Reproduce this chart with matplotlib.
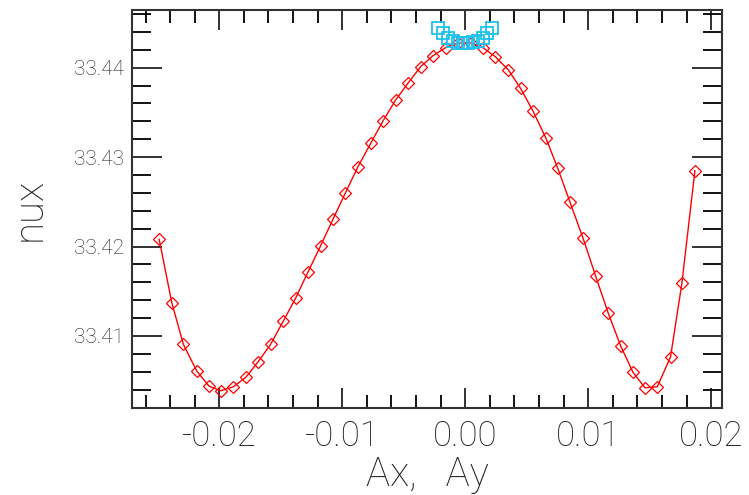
import numpy as np
import matplotlib
matplotlib.use("Agg")
import matplotlib.pyplot as plt
from matplotlib.ticker import MultipleLocator, FormatStrFormatter

# red scan: nux vs Ax
ax_amp = [-0.02489, -0.02386, -0.02292, -0.02183, -0.02084, -0.01989, -0.01886,
          -0.01783, -0.01686, -0.01583, -0.01481, -0.01378, -0.01278, -0.01177,
          -0.01075, -0.00974, -0.00874, -0.00769, -0.00669, -0.00566, -0.00463,
          -0.00363, -0.00263, -0.00160, -0.00058, 0.00043, 0.00143, 0.00244,
          0.00351, 0.00449, 0.00549, 0.00654, 0.00752, 0.00852, 0.00958,
          0.01060, 0.01161, 0.01263, 0.01364, 0.01461, 0.01561, 0.01669,
          0.01761, 0.01867]
nux_ax = [33.42081, 33.41371, 33.40906, 33.40607, 33.40440, 33.40387, 33.40432,
          33.40540, 33.40708, 33.40906, 33.41163, 33.41427, 33.41718, 33.42006,
          33.42308, 33.42602, 33.42889, 33.43154, 33.43404, 33.43639, 33.43832,
          33.44011, 33.44134, 33.44224, 33.44276, 33.44276, 33.44224, 33.44123,
          33.43974, 33.43770, 33.43519, 33.43217, 33.42875, 33.42494, 33.42092,
          33.41670, 33.41260, 33.40890, 33.40593, 33.40421, 33.40432, 33.40767,
          33.41588, 33.42848]

# blue scan: nux vs Ay
ay_amp = [-0.0022, -0.0018, -0.0014, -0.0010, -0.0006, -0.0002,
          0.0002, 0.0006, 0.0010, 0.0014, 0.0018, 0.0022]
nux_ay = [33.4444, 33.4439, 33.4433, 33.4430, 33.4428, 33.4428,
          33.4428, 33.4429, 33.4430, 33.4433, 33.4439, 33.4444]

plt.rcParams['font.family'] = ['Roboto', 'DejaVu Sans']
plt.rcParams['font.weight'] = 'light'

fig = plt.figure(figsize=(7.49, 4.95), dpi=100)
axis = fig.add_axes([0.1762, 0.1758, 0.7882, 0.804])

axis.plot(ax_amp, nux_ax, color='red', lw=1.0, marker='D', markersize=6,
          markerfacecolor='none', markeredgecolor='red', markeredgewidth=0.9)
axis.plot(ay_amp, nux_ay, linestyle='none', marker='s', markersize=8.5,
          markerfacecolor='none', markeredgecolor='#1ec0f0', markeredgewidth=1.3)

axis.set_xlim(-0.0271, 0.0209)
axis.set_ylim(33.40195, 33.44645)

axis.xaxis.set_major_locator(MultipleLocator(0.01))
axis.xaxis.set_minor_locator(MultipleLocator(0.002))
axis.yaxis.set_major_locator(MultipleLocator(0.01))
axis.yaxis.set_minor_locator(MultipleLocator(0.002))
axis.xaxis.set_major_formatter(FormatStrFormatter('%.2f'))
axis.yaxis.set_major_formatter(FormatStrFormatter('%.2f'))

axis.tick_params(axis='x', which='major', direction='in', length=14.5, width=1.3,
                 top=True, bottom=True, labelsize=25, pad=8, colors='#222222')
axis.tick_params(axis='x', which='minor', direction='in', length=9.5, width=1.3,
                 top=True, bottom=True)
axis.tick_params(axis='y', which='major', direction='in', length=21.5, width=1.3,
                 left=True, right=True, labelsize=15, pad=6, colors='#222222')
axis.tick_params(axis='y', which='minor', direction='in', length=13.5, width=1.3,
                 left=True, right=True)
for sp in axis.spines.values():
    sp.set_linewidth(1.5)
    sp.set_color('#333333')

axis.set_xlabel('Ax,   Ay', fontsize=29, fontweight='light', color='#222222',
                labelpad=2)
axis.set_ylabel('nux', fontsize=29, fontweight='light', color='#222222',
                labelpad=18)

fig.savefig('out.png', dpi=100)
